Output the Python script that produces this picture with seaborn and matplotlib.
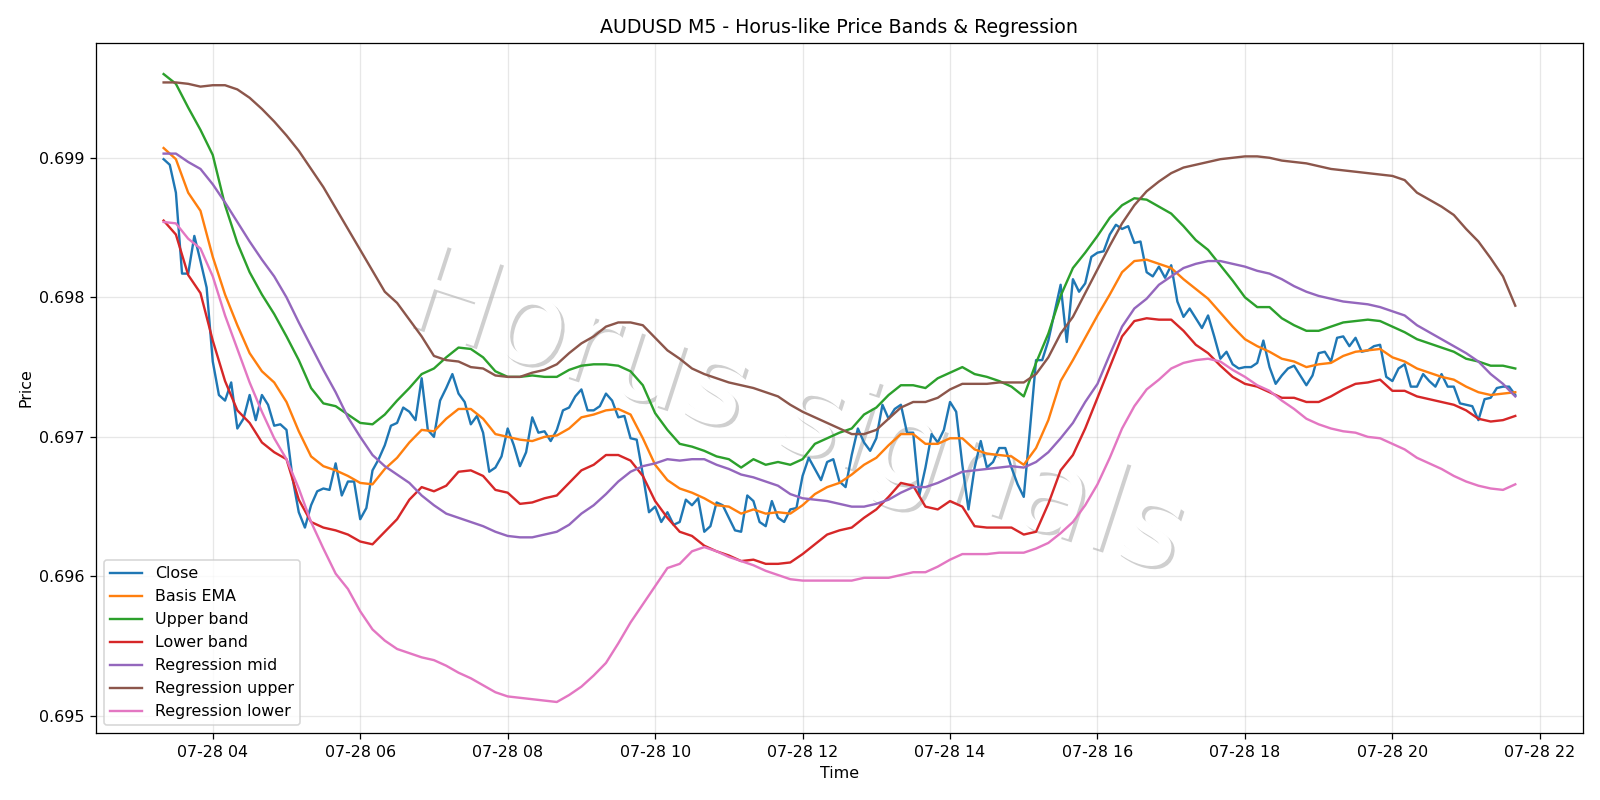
import numpy as np
import pandas as pd
import matplotlib
matplotlib.use("Agg")
import matplotlib.pyplot as plt
import matplotlib.dates as mdates
from matplotlib import patheffects as pe
import seaborn as sns

# ---------------- data (prices in units of 1e-5) ----------------
start_time = "2025-07-28 03:20"
n_bars = 221            # M5 bars, 03:20 .. 21:40

close_pts = [
    69899, 69895, 69875, 69817, 69817, 69844, 69826, 69807, 69754, 69730,
    69726, 69739, 69706, 69713, 69730, 69712, 69730, 69723, 69708, 69709,
    69705, 69670, 69646, 69635, 69651, 69661, 69663, 69662, 69681, 69658,
    69668, 69668, 69641, 69649, 69676, 69684, 69694, 69708, 69710,
    69721, 69718, 69712, 69742, 69705, 69700, 69726, 69735, 69745, 69731,
    69725, 69709, 69715, 69703, 69675, 69678, 69686, 69706, 69694, 69679,
    69689, 69714, 69703, 69704, 69697, 69705, 69719, 69721, 69729, 69734,
    69719, 69719, 69722, 69731, 69726, 69714, 69715, 69699, 69698,
    69673, 69646, 69650, 69639, 69646, 69637, 69639, 69655, 69651, 69656,
    69632, 69636, 69653, 69651, 69642, 69633, 69632, 69658, 69654, 69639,
    69636, 69654, 69642, 69639, 69648, 69649, 69672, 69685, 69677, 69669,
    69682, 69684, 69668, 69664, 69687, 69706, 69696, 69690, 69699,
    69723, 69713, 69720, 69723, 69703, 69703, 69658, 69678, 69702, 69696,
    69705, 69725, 69718, 69680, 69648, 69678, 69697, 69678, 69682, 69692,
    69692, 69678, 69666, 69657, 69705, 69755, 69755, 69769, 69789, 69809,
    69768, 69813, 69804, 69810, 69829, 69832, 69833, 69845, 69852,
    69849, 69851, 69839, 69840, 69818, 69815, 69822, 69814, 69823, 69797,
    69786, 69792, 69785, 69778, 69787, 69772, 69756, 69761, 69752, 69749,
    69750, 69750, 69753, 69769, 69750, 69738, 69744, 69749, 69751, 69744,
    69737, 69744, 69760, 69761, 69754, 69771, 69772, 69765, 69771,
    69761, 69762, 69765, 69766, 69743, 69740, 69749, 69752, 69736, 69736,
    69745, 69740, 69736, 69745, 69736, 69736, 69724, 69723, 69722, 69712,
    69727, 69728, 69735, 69736, 69736, 69730,
]

# smoother series read every 10 minutes (every 2nd bar)
basis_pts = [
    69907, 69899, 69875, 69862, 69829, 69802, 69780, 69760, 69747, 69739,
    69725, 69704, 69686, 69679, 69676, 69672, 69667, 69666, 69677, 69685,
    69696, 69705, 69704, 69713, 69720, 69720, 69713, 69702, 69700, 69698,
    69697, 69700, 69701, 69706, 69714, 69716, 69719, 69720, 69716, 69699,
    69680, 69669, 69663, 69660, 69656, 69651, 69650, 69645, 69648, 69645,
    69646, 69645, 69651, 69659, 69664, 69667, 69673, 69680, 69685, 69694,
    69702, 69702, 69695, 69695, 69699, 69699, 69691, 69688, 69687, 69686,
    69680, 69692, 69712, 69740, 69755, 69771, 69787, 69802, 69818, 69826,
    69827, 69824, 69821, 69813, 69806, 69799, 69789, 69779, 69770, 69765,
    69761, 69756, 69754, 69750, 69752, 69753, 69758, 69761, 69762, 69763,
    69757, 69754, 69749, 69746, 69743, 69741, 69736, 69732, 69730, 69731,
    69732,
]
upper_pts = [
    69960, 69953, 69936, 69920, 69902, 69866, 69839, 69818, 69802, 69788,
    69772, 69755, 69735, 69724, 69722, 69716, 69710, 69709, 69716, 69726,
    69735, 69745, 69749, 69757, 69764, 69763, 69757, 69747, 69743, 69743,
    69744, 69743, 69743, 69748, 69751, 69752, 69752, 69751, 69747, 69737,
    69717, 69705, 69695, 69693, 69690, 69686, 69684, 69678, 69684, 69680,
    69682, 69680, 69684, 69695, 69699, 69703, 69706, 69716, 69721, 69730,
    69737, 69737, 69735, 69742, 69746, 69750, 69745, 69743, 69740, 69736,
    69729, 69753, 69774, 69801, 69821, 69832, 69844, 69857, 69866, 69871,
    69870, 69865, 69860, 69851, 69841, 69834, 69823, 69812, 69800, 69793,
    69793, 69785, 69780, 69776, 69776, 69779, 69782, 69783, 69784, 69783,
    69779, 69775, 69770, 69767, 69764, 69761, 69756, 69754, 69751, 69751,
    69749,
]
lower_pts = [
    69855, 69845, 69816, 69803, 69769, 69740, 69719, 69710, 69696, 69689,
    69684, 69655, 69639, 69635, 69633, 69630, 69625, 69623, 69632, 69641,
    69655, 69664, 69661, 69665, 69675, 69676, 69672, 69662, 69660, 69652,
    69653, 69656, 69658, 69667, 69676, 69680, 69687, 69687, 69683, 69672,
    69654, 69642, 69632, 69629, 69622, 69618, 69615, 69611, 69612, 69609,
    69609, 69610, 69616, 69623, 69630, 69633, 69635, 69642, 69648, 69657,
    69667, 69665, 69650, 69648, 69654, 69650, 69636, 69635, 69635, 69635,
    69630, 69632, 69652, 69676, 69687, 69706, 69728, 69750, 69772, 69783,
    69785, 69784, 69784, 69776, 69766, 69760, 69751, 69743, 69738, 69736,
    69732, 69728, 69728, 69725, 69725, 69729, 69734, 69738, 69739, 69741,
    69733, 69733, 69729, 69727, 69725, 69723, 69719, 69713, 69711, 69712,
    69715,
]
reg_mid_pts = [
    69903, 69903, 69897, 69892, 69881, 69868, 69854, 69840, 69827, 69815,
    69800, 69782, 69765, 69748, 69732, 69714, 69700, 69687, 69679, 69673,
    69667, 69658, 69651, 69645, 69642, 69639, 69636, 69632, 69629, 69628,
    69628, 69630, 69632, 69637, 69645, 69651, 69659, 69668, 69675, 69679,
    69681, 69684, 69683, 69684, 69684, 69680, 69677, 69673, 69671, 69668,
    69665, 69659, 69656, 69655, 69654, 69652, 69650, 69650, 69652, 69655,
    69660, 69664, 69664, 69667, 69671, 69675, 69676, 69677, 69678, 69679,
    69678, 69682, 69689, 69699, 69710, 69725, 69738, 69759, 69779, 69792,
    69799, 69809, 69815, 69821, 69824, 69826, 69826, 69824, 69822, 69819,
    69817, 69813, 69808, 69804, 69801, 69799, 69797, 69796, 69795, 69793,
    69790, 69787, 69780, 69775, 69770, 69765, 69760, 69754, 69745, 69738,
    69729,
]
reg_upper_pts = [
    69954, 69954, 69953, 69951, 69952, 69952, 69949, 69943, 69935, 69926,
    69916, 69905, 69892, 69879, 69864, 69849, 69834, 69819, 69804, 69796,
    69784, 69772, 69758, 69755, 69754, 69750, 69749, 69744, 69743, 69743,
    69746, 69748, 69752, 69760, 69767, 69772, 69779, 69782, 69782, 69780,
    69771, 69762, 69756, 69749, 69745, 69742, 69739, 69737, 69735, 69732,
    69729, 69723, 69718, 69714, 69710, 69706, 69702, 69702, 69705, 69713,
    69721, 69725, 69725, 69728, 69734, 69738, 69738, 69738, 69739, 69739,
    69739, 69745, 69757, 69774, 69786, 69803, 69820, 69837, 69853, 69866,
    69876, 69883, 69889, 69893, 69895, 69897, 69899, 69900, 69901, 69901,
    69900, 69898, 69897, 69896, 69894, 69892, 69891, 69890, 69889, 69888,
    69887, 69884, 69875, 69870, 69865, 69859, 69849, 69840, 69828, 69815,
    69794,
]
reg_lower_pts = [
    69854, 69853, 69842, 69835, 69815, 69787, 69763, 69739, 69718, 69699,
    69684, 69663, 69639, 69620, 69602, 69591, 69575, 69562, 69554, 69548,
    69545, 69542, 69540, 69536, 69531, 69527, 69522, 69517, 69514, 69513,
    69512, 69511, 69510, 69515, 69521, 69529, 69538, 69552, 69567, 69580,
    69593, 69606, 69609, 69618, 69621, 69618, 69614, 69611, 69608, 69604,
    69601, 69598, 69597, 69597, 69597, 69597, 69597, 69599, 69599, 69599,
    69601, 69603, 69603, 69607, 69612, 69616, 69616, 69616, 69617, 69617,
    69617, 69620, 69624, 69631, 69639, 69651, 69666, 69685, 69706, 69722,
    69734, 69741, 69749, 69753, 69755, 69756, 69754, 69748, 69743, 69737,
    69733, 69726, 69720, 69713, 69709, 69706, 69704, 69703, 69700, 69699,
    69695, 69691, 69685, 69681, 69677, 69672, 69668, 69665, 69663, 69662,
    69666,
]

labels = ["Close", "Basis EMA", "Upper band", "Lower band",
          "Regression mid", "Regression upper", "Regression lower"]
title = "AUDUSD M5 - Horus-like Price Bands & Regression"
watermark = "Horus signals"

# ---------------- build frames ----------------
t5 = pd.date_range(start_time, periods=n_bars, freq="5min")
t10 = t5[::2]
scale = 1e-5
series = [
    (t5, close_pts), (t10, basis_pts), (t10, upper_pts), (t10, lower_pts),
    (t10, reg_mid_pts), (t10, reg_upper_pts), (t10, reg_lower_pts),
]
colors = sns.color_palette("tab10", 7)

fig, ax = plt.subplots(figsize=(14, 7))

for (t, vals), lab, col in zip(series, labels, colors):
    df = pd.DataFrame({"time": t, "price": np.array(vals) * scale})
    sns.lineplot(data=df, x="time", y="price", ax=ax, label=lab,
                 color=col, linewidth=1.5, zorder=3)

ax.text(0.47, 0.46, watermark, transform=ax.transAxes,
        fontsize=76, color="white", rotation=-18,
        ha="center", va="center", zorder=1,
        path_effects=[pe.withSimplePatchShadow(offset=(2, -2),
                                               shadow_rgbFace="#555555",
                                               alpha=0.28)])

ax.set_title(title, fontsize=12)
ax.set_xlabel("Time")
ax.set_ylabel("Price")
ax.xaxis.set_major_locator(mdates.HourLocator(interval=2))
ax.xaxis.set_major_formatter(mdates.DateFormatter("%m-%d %H"))
ax.grid(True, alpha=0.3)
ax.legend(loc="lower left")
fig.tight_layout()
fig.savefig("out.png", dpi=1600 / 14)
